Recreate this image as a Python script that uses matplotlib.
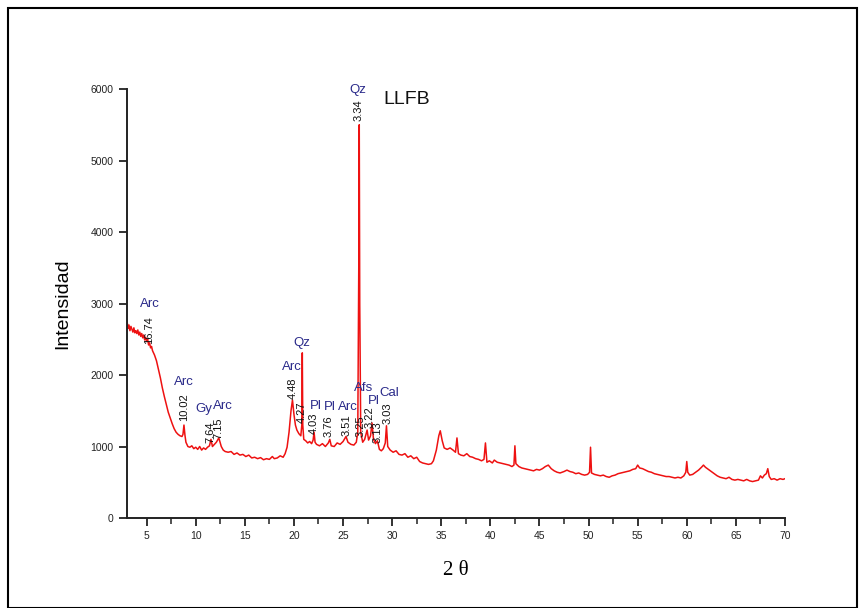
import matplotlib
matplotlib.use("Agg")
import matplotlib.pyplot as plt
from matplotlib.ticker import MultipleLocator
from matplotlib.patches import Rectangle

# difractograma LLFB
two_theta = [
    3.0, 3.1, 3.2, 3.3, 3.4, 3.5, 3.6, 3.7, 3.8, 3.9, 4.0, 4.1, 4.2, 4.3, 4.4, 4.5,
    4.6, 4.7, 4.8, 4.9, 5.0, 5.1, 5.2, 5.3, 5.4, 5.5, 5.6, 5.8, 6.0, 6.2, 6.4, 6.6,
    6.8, 7.0, 7.2, 7.4, 7.6, 7.8, 8.0, 8.2, 8.4, 8.6, 8.7, 8.8, 8.9, 9.0, 9.2, 9.4,
    9.6, 9.8, 10.0, 10.2, 10.4, 10.6, 10.8, 11.0, 11.2, 11.4, 11.55, 11.7, 11.9, 12.1,
    12.35, 12.6, 12.8, 13.0, 13.3, 13.6, 13.9, 14.2, 14.5, 14.8, 15.1, 15.4, 15.7, 16.0,
    16.3, 16.6, 16.9, 17.2, 17.5, 17.8, 18.0, 18.3, 18.6, 18.9, 19.1, 19.3, 19.5, 19.7,
    19.85, 20.0, 20.15, 20.3, 20.5, 20.7, 20.8, 20.85, 20.9, 21.0, 21.2, 21.4, 21.6, 21.8,
    21.95, 22.05, 22.15, 22.3, 22.6, 22.9, 23.2, 23.5, 23.65, 23.8, 24.1, 24.4, 24.7, 25.0,
    25.3, 25.5, 25.8, 26.1, 26.35, 26.5, 26.6, 26.65, 26.7, 26.8, 27.0, 27.2, 27.45, 27.6,
    27.8, 27.95, 28.1, 28.3, 28.5, 28.7, 28.9, 29.1, 29.3, 29.42, 29.55, 29.8, 30.1, 30.4,
    30.7, 31.0, 31.3, 31.6, 31.9, 32.2, 32.5, 32.8, 33.1, 33.4, 33.7, 34.0, 34.2, 34.5,
    34.75, 34.9, 35.1, 35.3, 35.6, 35.9, 36.2, 36.45, 36.6, 36.75, 37.0, 37.3, 37.6, 37.9,
    38.2, 38.5, 38.8, 39.1, 39.35, 39.5, 39.65, 39.9, 40.2, 40.4, 40.7, 41.0, 41.3, 41.6,
    41.9, 42.2, 42.4, 42.5, 42.6, 42.9, 43.2, 43.5, 43.8, 44.1, 44.4, 44.7, 45.0, 45.3,
    45.6, 45.9, 46.2, 46.5, 46.8, 47.1, 47.5, 47.8, 48.1, 48.4, 48.7, 49.0, 49.3, 49.6,
    49.9, 50.1, 50.2, 50.3, 50.6, 50.9, 51.2, 51.5, 51.8, 52.1, 52.4, 52.7, 53.0, 53.3,
    53.6, 53.9, 54.2, 54.5, 54.8, 55.0, 55.2, 55.5, 55.8, 56.1, 56.4, 56.7, 57.0, 57.3,
    57.6, 57.9, 58.2, 58.5, 58.8, 59.1, 59.4, 59.7, 59.9, 60.0, 60.1, 60.3, 60.6, 60.9,
    61.2, 61.5, 61.7, 61.9, 62.2, 62.5, 62.8, 63.1, 63.4, 63.7, 64.0, 64.3, 64.6, 64.9,
    65.2, 65.5, 65.8, 66.1, 66.4, 66.7, 67.0, 67.3, 67.5, 67.7, 67.9, 68.1, 68.25, 68.4,
    68.6, 68.9, 69.2, 69.5, 69.8, 70.0,
]
intensidad = [
    2760, 2650, 2700, 2620, 2680, 2640, 2600, 2660, 2590, 2620, 2580, 2630, 2560, 2600, 2540, 2580,
    2520, 2560, 2490, 2530, 2470, 2500, 2420, 2450, 2380, 2400, 2340, 2280, 2200, 2080, 1960, 1820,
    1700, 1590, 1480, 1400, 1320, 1250, 1200, 1170, 1150, 1140, 1170, 1300, 1160, 1060, 1000, 990,
    1010, 970, 990, 960, 1000, 950, 980, 960, 990, 1010, 1100, 1000, 1030, 1060,
    1120, 1000, 950, 930, 920, 930, 890, 910, 880, 890, 860, 880, 840, 850,
    830, 845, 815, 830, 820, 860, 830, 840, 870, 850, 900, 990, 1200, 1500,
    1650, 1450, 1300, 1230, 1180, 1150, 1300, 2310, 1300, 1100, 1080, 1050, 1070, 1040,
    1090, 1200, 1060, 1030, 1010, 1040, 1000, 1050, 1100, 1010, 1000, 1050, 1030, 1070,
    1140, 1060, 1030, 1020, 1060, 1200, 3500, 5500, 3000, 1200, 1060, 1100, 1230, 1090,
    1150, 1330, 1100, 1040, 1080, 960, 940, 970, 1050, 1290, 1000, 950, 920, 940,
    890, 880, 900, 850, 870, 830, 850, 790, 770, 760, 750, 760, 800, 950,
    1150, 1220, 1080, 980, 960, 980, 950, 920, 1120, 900, 880, 870, 900, 860,
    850, 830, 820, 800, 820, 1050, 780, 800, 770, 810, 780, 770, 760, 750,
    740, 720, 740, 1010, 760, 720, 700, 690, 680, 670, 660, 680, 670, 690,
    720, 740, 690, 660, 640, 630, 650, 670, 650, 640, 620, 630, 610, 600,
    610, 640, 990, 630, 610, 600, 590, 600, 580, 570, 590, 600, 620, 630,
    640, 650, 660, 680, 690, 740, 700, 690, 670, 650, 640, 620, 610, 600,
    590, 580, 580, 570, 560, 570, 560, 590, 640, 790, 640, 600, 610, 640,
    670, 710, 740, 710, 680, 650, 620, 590, 570, 560, 550, 570, 540, 530,
    540, 530, 520, 540, 520, 510, 520, 530, 590, 560, 600, 620, 690, 580,
    540, 550, 530, 550, 540, 550,
]

# etiquetas de minerales: (texto, x, y)
minerales = [
    ("Arc", 5.3, 3000), ("Arc", 8.75, 1900), ("Gy", 10.85, 1530), ("Arc", 12.8, 1570),
    ("Arc", 19.75, 2110), ("Qz", 20.85, 2450), ("Pl", 22.2, 1570), ("Pl", 23.7, 1555),
    ("Arc", 25.5, 1555), ("Qz", 26.55, 5980), ("Afs", 27.1, 1820), ("Pl", 28.1, 1630),
    ("Cal", 29.7, 1750),
]
# espaciados d
espaciados = [
    ("16.74", 5.2, 2630), ("10.02", 8.8, 1550), ("7.64", 11.45, 1200), ("7.15", 12.35, 1250),
    ("4.48", 19.85, 1820), ("4.27", 20.78, 1480), ("4.03", 22.0, 1320), ("3.76", 23.5, 1280),
    ("3.51", 25.35, 1300), ("3.34", 26.6, 5700), ("3.25", 26.8, 1280), ("3.22", 27.75, 1410),
    ("3.13", 28.5, 1200), ("3.03", 29.5, 1470),
]

plt.rcParams['font.family'] = ['Liberation Sans', 'DejaVu Sans']

fig = plt.figure(figsize=(8.61, 6.08), dpi=100)
ax = fig.add_axes([0.1475, 0.148, 0.7642, 0.7056])

ax.plot(two_theta, intensidad, color='#ee1111', linewidth=1.1)

for txt, x, y in minerales:
    ax.text(x, y, txt, color='#2a2a8a', fontsize=9.5, ha='center', va='center')
for txt, x, y in espaciados:
    ax.text(x, y, txt, color='#111111', fontsize=8, ha='center', va='center', rotation=90)

ax.text(31.5, 5860, 'LLFB', fontsize=14, ha='center', va='center', color='#111111')

ax.set_xlim(3, 70)
ax.set_ylim(0, 6000)
ax.xaxis.set_major_locator(MultipleLocator(5))
ax.xaxis.set_minor_locator(MultipleLocator(2.5))
ax.yaxis.set_major_locator(MultipleLocator(1000))
ax.spines['top'].set_visible(False)
ax.spines['right'].set_visible(False)
for s in ['left', 'bottom']:
    ax.spines[s].set_linewidth(1.4)
    ax.spines[s].set_color('#222222')
ax.tick_params(which='major', direction='out', length=6, width=1.3, labelsize=7.5,
               colors='#222222')
ax.tick_params(which='minor', direction='out', length=4, width=1.1, colors='#222222')
ax.set_xticks(range(5, 71, 5))

ax.set_ylabel('Intensidad', fontsize=14, labelpad=14)
ax.set_xlabel('2 θ', fontsize=15, family=['Liberation Serif', 'DejaVu Serif'], labelpad=14)

# marco de la figura
fig.patches.append(Rectangle((8 / 861, 0.0), 849 / 861, 1 - 8 / 608, transform=fig.transFigure,
                             fill=False, edgecolor='black', linewidth=1.5))

fig.savefig('out.png', dpi=100)
